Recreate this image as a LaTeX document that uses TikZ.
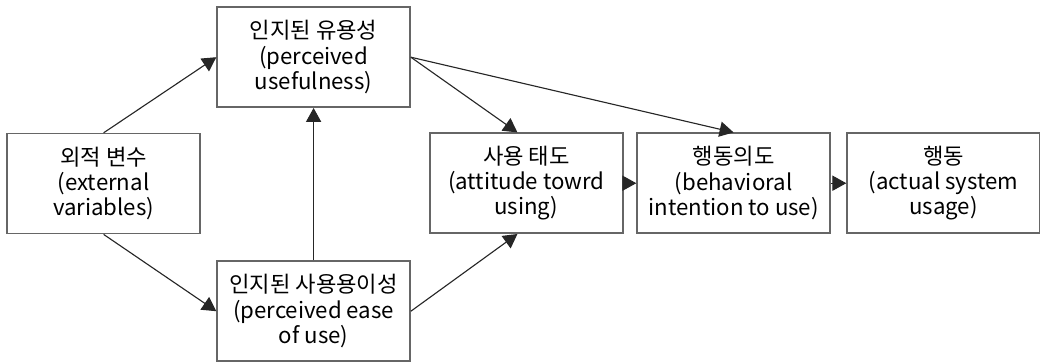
\documentclass[tikz,border=0pt]{standalone}
\usepackage{fontspec}
\setmainfont{Noto Sans CJK KR}
\usetikzlibrary{arrows.meta}

\tikzset{
	box/.style={draw=black!60,line width=1.1pt,minimum width=4.825cm,minimum height=2.5cm,inner sep=0pt,align=center,font=\fontsize{15.8}{18}\selectfont},
	conn/.style={draw=black!85,line width=0.8pt,-{Triangle[length=0.35cm,width=0.38cm]}}
}

\begin{document}
\begin{tikzpicture}
	\useasboundingbox (0,0) rectangle (26,-9.025);
	\node[box] (ext) at (2.59,-4.59) {외적 변수\\(external\\variables)};
	\node[box] (pu) at (7.84,-1.43) {인지된 유용성\\(perceived\\usefulness)};
	\node[box] (peou) at (7.84,-7.78) {인지된 사용용이성\\(perceived ease\\of use)};
	\node[box] (att) at (13.16,-4.58) {사용 태도\\(attitude towrd\\using)};
	\node[box] (bi) at (18.34,-4.58) {행동의도\\(behavioral\\intention to use)};
	\node[box] (act) at (23.59,-4.58) {행동\\(actual system\\usage)};

	\draw[conn] (ext.north) -- (pu.west);
	\draw[conn] (ext.south) -- (peou.west);
	\draw[conn] (peou.north) -- (pu.south);
	\draw[conn] (pu.east) -- (att.100);
	\draw[conn] (pu.east) -- (bi.north);
	\draw[conn] (peou.east) -- (att.260);
	\draw[conn] (att.east) -- (bi.west);
	\draw[conn] (bi.east) -- (act.west);
\end{tikzpicture}
\end{document}
